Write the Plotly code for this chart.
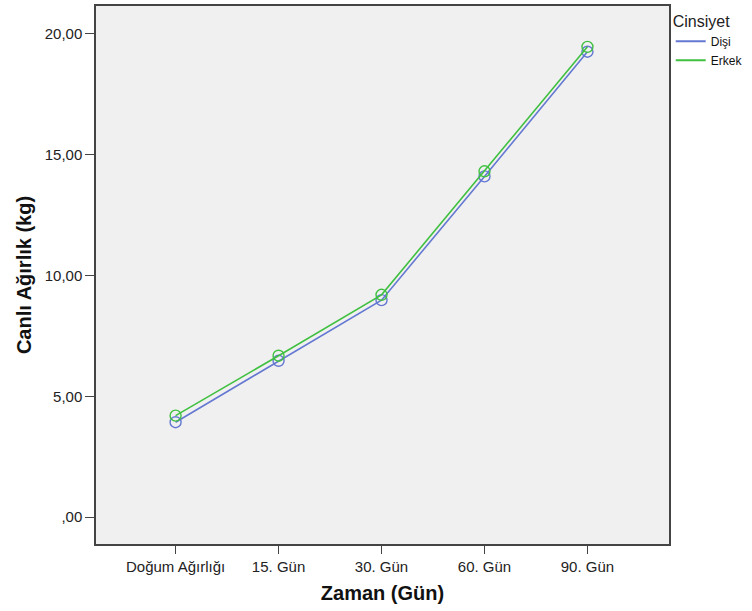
import plotly.graph_objects as go

categories = ["Doğum Ağırlığı", "15. Gün", "30. Gün", "60. Gün", "90. Gün"]
disi = [3.93, 6.47, 8.98, 14.10, 19.26]
erkek = [4.20, 6.68, 9.20, 14.31, 19.46]
ytick_vals = [0, 5, 10, 15, 20]
ytick_text = [",00", "5,00", "10,00", "15,00", "20,00"]

series = [("Dişi", disi, "#6478D2"), ("Erkek", erkek, "#40C040")]
xpos = list(range(len(categories)))

fig = go.Figure()
for name, vals, col in series:
    fig.add_trace(go.Scatter(
        x=xpos, y=vals, name=name, mode="lines+markers", showlegend=False,
        line=dict(color=col, width=1.6),
        marker=dict(symbol="circle-open", size=11, color=col, line=dict(width=1.4)),
    ))
for name, vals, col in series:
    # legend entries: line only
    fig.add_trace(go.Scatter(
        x=[None], y=[None], name=name, mode="lines",
        line=dict(color=col, width=2),
    ))

font_family = "Liberation Sans, Arial, sans-serif"
fig.update_layout(
    width=752, height=611,
    margin=dict(l=96, r=80, t=4, b=67),
    paper_bgcolor="white",
    plot_bgcolor="#F0F0F0",
    font=dict(family=font_family, size=12, color="#222222"),
    showlegend=True,
    legend=dict(
        title=dict(text="Cinsiyet", font=dict(size=16, color="#222222")),
        x=1.003, y=1.0, xanchor="left", yanchor="top",
        font=dict(size=12, color="#111111"),
        itemwidth=30, tracegroupgap=0,
        bgcolor="rgba(0,0,0,0)",
    ),
    xaxis=dict(
        range=[-0.773, 4.792],
        tickvals=xpos, ticktext=categories,
        ticks="outside", ticklen=8, tickcolor="#444444", tickwidth=1,
        showgrid=False, zeroline=False,
        showline=True, linecolor="#444444", linewidth=1.5, mirror=True,
        tickfont=dict(size=15, color="#222222"),
        title=dict(text="<b>Zaman (Gün)</b>", font=dict(size=20, color="#111111"), standoff=12),
    ),
    yaxis=dict(
        range=[-1.11, 21.15],
        tickvals=ytick_vals, ticktext=ytick_text,
        ticks="outside", ticklen=9, tickcolor="#444444", tickwidth=1,
        showgrid=False, zeroline=False,
        showline=True, linecolor="#444444", linewidth=1.5, mirror=True,
        tickfont=dict(size=15, color="#222222"),
        title=dict(text="<b>Canlı Ağırlık (kg)</b>", font=dict(size=20, color="#111111"), standoff=8),
    ),
)

fig.write_html("out.html", config={"displayModeBar": False},
               post_script="document.body.style.margin='0';")
